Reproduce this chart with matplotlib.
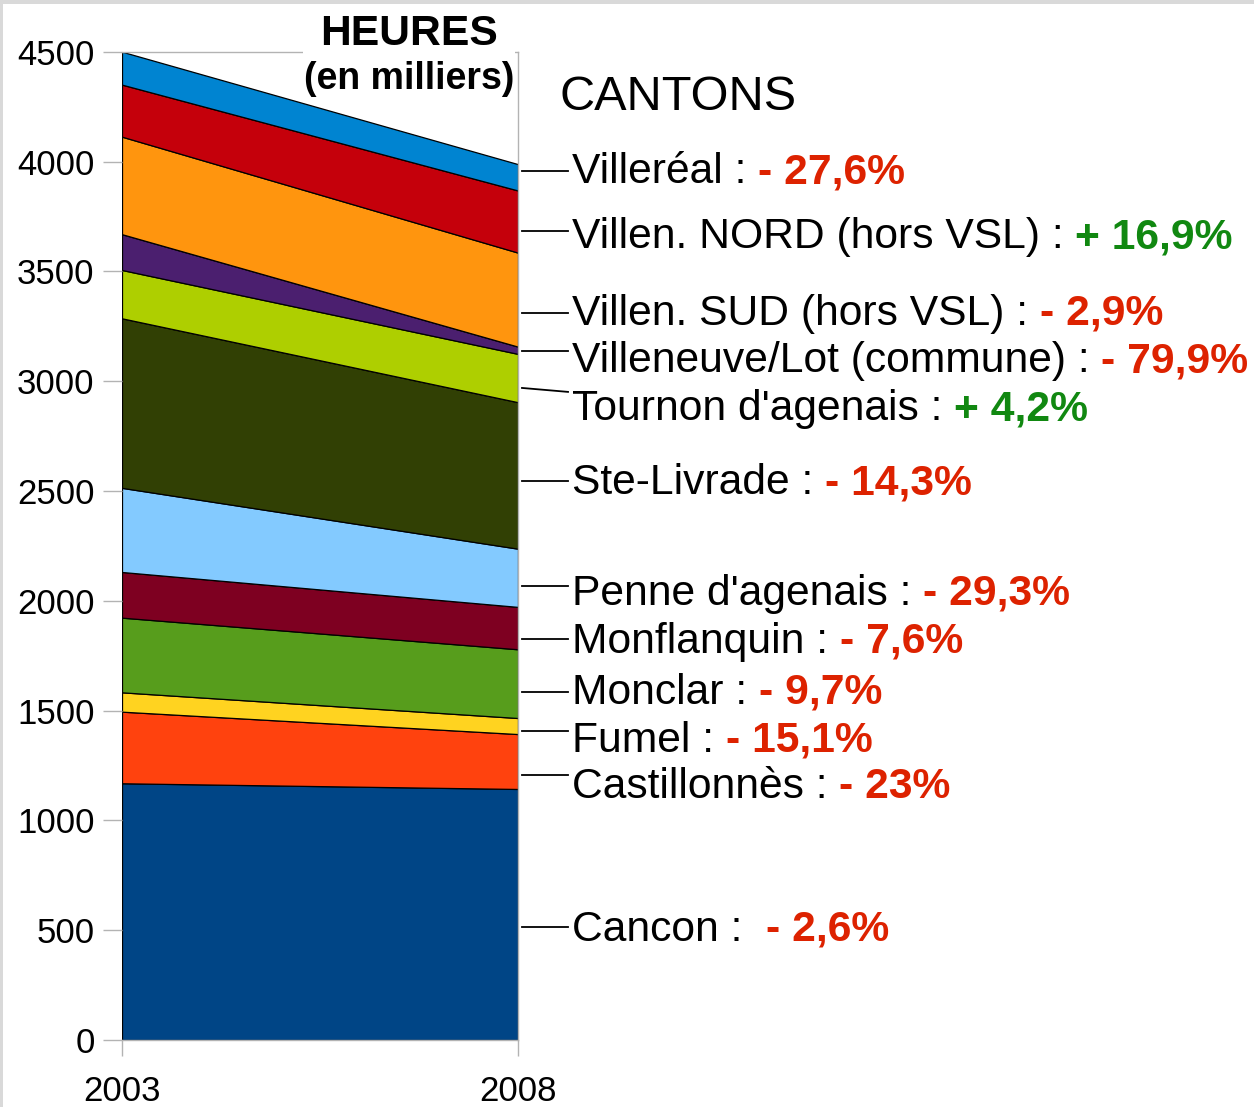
import matplotlib
matplotlib.use('Agg')
import matplotlib.pyplot as plt
from matplotlib.patches import Rectangle
from matplotlib.transforms import blended_transform_factory

plt.rcParams['font.family'] = ['Liberation Sans', 'DejaVu Sans']

# données (heures, en milliers)
years = [2003, 2008]
cantons = ['Cancon', 'Castillonnès', 'Fumel', 'Monclar', 'Monflanquin',
           "Penne d'agenais", 'Ste-Livrade', "Tournon d'agenais",
           'Villeneuve/Lot (commune)', 'Villen. SUD (hors VSL)',
           'Villen. NORD (hors VSL)', 'Villeréal']
h2003 = [1169, 326, 88, 340, 208, 383, 772, 220, 163, 444, 237, 150]
h2008 = [1143, 250, 73, 313, 193, 265, 667, 220, 33, 428, 283, 120]
changes = ['- 2,6%', '- 23%', '- 15,1%', '- 9,7%', '- 7,6%', '- 29,3%',
           '- 14,3%', '+ 4,2%', '- 79,9%', '- 2,9%', '+ 16,9%', '- 27,6%']
seps = [' :  ', ' : ', ' : ', ' : ', ' : ', ' : ', ' : ', ' : ', ' : ', ' : ', ' : ', ' : ']
yticks = [0, 500, 1000, 1500, 2000, 2500, 3000, 3500, 4000, 4500]

colors = ['#004586', '#ff420e', '#ffd320', '#579d1c', '#7e0021', '#83caff',
          '#314004', '#aecf00', '#4b1f6f', '#ff950e', '#c5000b', '#0084d1']

# position des étiquettes (en unités de l'axe y)
text_y = [452, 1102, 1313, 1530, 1764, 1981, 2485, 2823, 3041, 3256, 3605, 3901]
leader_y1 = [516, 1205, 1409, 1585, 1825, 2065, 2547, 2951, 3137, 3308, 3685, 3955]
leader_y0 = [516, 1205, 1409, 1585, 1825, 2065, 2547, 2969, 3137, 3308, 3685, 3955]

W, H = 1254, 1107
fig = plt.figure(figsize=(W / 100, H / 100), dpi=100)
ax = fig.add_axes([122 / W, 67 / H, 396 / W, 988.3 / H])

series = [[a, b] for a, b in zip(h2003, h2008)]
ax.stackplot(years, series, colors=colors, edgecolor='black', linewidth=0.9)

ax.set_xlim(2003, 2008)
ax.set_ylim(0, 4500)
ax.set_xticks(years)
ax.set_yticks(yticks)
ax.tick_params(axis='y', length=13.7, width=1, color='#b3b3b3', pad=6, labelsize=25)
ax.tick_params(axis='x', length=11.5, width=1, color='#b3b3b3', pad=14, labelsize=25)
for s in ax.spines.values():
    s.set_color('#b3b3b3')
    s.set_linewidth(1)
ax.spines['left'].set_visible(False)

red = '#dd2200'
green = '#118811'
fs = 30.7
blend = blended_transform_factory(ax.transAxes, ax.transData)
names = []
for i, c in enumerate(cantons):
    ax.plot([1.0101, 1.1263], [leader_y0[i], leader_y1[i]], transform=blend,
            clip_on=False, color='black', lw=1.3)
    t = ax.text(1.1364, text_y[i], c + seps[i].rstrip(), transform=blend,
                va='baseline', ha='left', fontsize=fs, color='black')
    names.append(t)

fig.canvas.draw()
r = fig.canvas.get_renderer()
blend_fig = blended_transform_factory(fig.transFigure, ax.transData)
space_px = 0.278 * fs * 100 / 72
for i, t in enumerate(names):
    bb = t.get_window_extent(r)
    nsp = len(seps[i]) - len(seps[i].rstrip())
    x = (bb.x1 + nsp * space_px) / W
    col = green if changes[i].startswith('+') else red
    ax.text(x, text_y[i], changes[i], transform=blend_fig, va='baseline',
            ha='left', fontsize=fs, fontweight='bold', color=col)

fig.text(560 / W, 1 - 98 / H, 'CANTONS', fontsize=35, va='center', ha='left')

# cadre blanc du titre
fig.add_artist(Rectangle((303 / W, 1 - 98 / H), 212 / W, 93 / H,
                         transform=fig.transFigure, facecolor='white',
                         edgecolor='none', zorder=5))
fig.text(409 / W, 1 - 34 / H, 'HEURES', fontsize=30.7, fontweight='bold',
         ha='center', va='center', zorder=6)
fig.text(409 / W, 1 - 79 / H, '(en milliers)', fontsize=27, fontweight='bold',
         ha='center', va='center', zorder=6)

# bordures grises
fig.add_artist(Rectangle((0, 1 - 4 / H), 1, 4 / H, transform=fig.transFigure,
                         facecolor='#d9d9d9', edgecolor='none'))
fig.add_artist(Rectangle((0, 0), 3 / W, 1, transform=fig.transFigure,
                         facecolor='#d9d9d9', edgecolor='none'))

fig.savefig('out.png', dpi=100)
